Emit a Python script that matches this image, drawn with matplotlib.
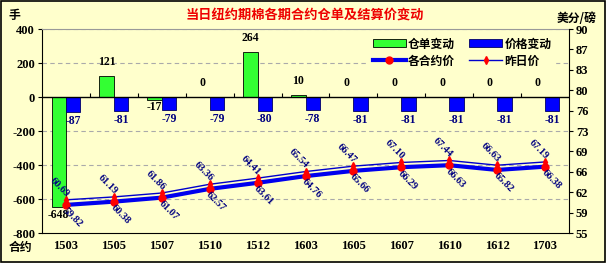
import matplotlib.pyplot as plt
from matplotlib.lines import Line2D
from matplotlib.patches import Patch, Rectangle

plt.rcParams['font.family'] = ['Liberation Serif', 'Noto Sans CJK SC']
plt.rcParams['font.weight'] = 'bold'

# chart data
contracts = ['1503', '1505', '1507', '1510', '1512', '1603', '1605', '1607', '1610', '1612', '1703']
warrant_change = [-648, 121, -17, 0, 264, 10, 0, 0, 0, 0, 0]
price_change = [-87, -81, -79, -79, -80, -78, -81, -81, -81, -81, -81]
price_today = [59.82, 60.38, 61.07, 62.57, 63.61, 64.76, 65.66, 66.29, 66.63, 65.82, 66.38]
price_prev = [60.69, 61.19, 61.86, 63.36, 64.41, 65.54, 66.47, 67.10, 67.44, 66.63, 67.19]

left_ticks = [-800, -600, -400, -200, 0, 200, 400]
right_ticks = [55, 58.5, 62, 65.5, 69, 72.5, 76, 79.5, 83, 86.5, 90]
right_tick_labels = ['55', '59', '62', '66', '69', '73', '76', '80', '83', '87', '90']

bg = '#FFFFCC'
navy = '#000080'
cjk = ['Noto Sans CJK SC', 'DejaVu Sans']

fig = plt.figure(figsize=(6.06, 2.63), dpi=100, facecolor=bg)
fig.patches.append(Rectangle((0.001, 0.002), 0.997, 0.995, transform=fig.transFigure,
                             fill=False, edgecolor='black', lw=1.2))

ax = fig.add_axes([42 / 606, 1 - 233 / 263, 527 / 606, 204 / 263])
ax.set_facecolor(bg)
x = list(range(len(contracts)))

# bars
xg = [i - 0.15 for i in x]
xb = [i + 0.15 for i in x]
ax.bar(xg, warrant_change, width=0.3, color='#33FF33', edgecolor='black', lw=0.6, zorder=3)
ax.bar(xb, price_change, width=0.3, color='#0000FF', edgecolor='#000066', lw=0.6, zorder=3)

for xi, v in zip(xg, warrant_change):
    if v >= 0:
        ax.annotate(str(v), (xi, v), xytext=(0, 6), textcoords='offset points',
                    ha='center', va='bottom', fontsize=8.5, color='black')
    else:
        ax.annotate(str(v), (xi, v), xytext=(0, -1), textcoords='offset points',
                    ha='center', va='top', fontsize=8.5, color='black')
for xi, v in zip(xb, price_change):
    ax.annotate(str(v), (xi, v), xytext=(0, -2), textcoords='offset points',
                ha='center', va='top', fontsize=8.5, color=navy)

ax.set_xlim(-0.5, len(contracts) - 0.5)
ax.set_ylim(-800, 400)
ax.set_yticks(left_ticks)
ax.set_yticklabels([str(t) for t in left_ticks], fontsize=9)
ax.set_xticks(x)
ax.set_xticklabels(contracts, fontsize=9)
ax.tick_params(axis='x', length=0, pad=5)
ax.tick_params(axis='y', length=3, width=0.8, pad=2)
for t in left_ticks:
    if t not in (0, -800):
        ax.axhline(t, color='#AAAAAA', lw=0.8, ls=(0, (4, 3)), zorder=1)
ax.axhline(0, color='black', lw=1, zorder=4)
ax.vlines([i + 0.5 for i in x[:-1]], 0, 25, color='black', lw=0.8, zorder=4)
ax.spines['top'].set_color('#999999')
ax.spines['right'].set_visible(False)

# price lines on the right axis
ax2 = ax.twinx()
ax2.plot(x, price_prev, color='#0000CC', lw=1, marker='d', ms=4,
         mfc='red', mec='red', zorder=3)
ax2.plot(x, price_today, color='#0000EE', lw=3, marker='o', ms=5,
         mfc='red', mec='red', zorder=4)
for xi, v in zip(x, price_prev):
    ax2.annotate(f'{v:.2f}', (xi, v), xytext=(-1, 1), textcoords='offset points',
                 ha='right', va='bottom', rotation=-45, rotation_mode='anchor',
                 fontsize=7.5, color=navy, zorder=5)
for xi, v in zip(x, price_today):
    ax2.annotate(f'{v:.2f}', (xi, v), xytext=(1, -1), textcoords='offset points',
                 ha='left', va='top', rotation=-45, rotation_mode='anchor',
                 fontsize=7.5, color=navy, zorder=5)
ax2.set_ylim(55, 90)
ax2.set_yticks(right_ticks)
ax2.set_yticklabels(right_tick_labels, fontsize=9)
ax2.tick_params(axis='y', length=3, width=0.8, pad=2)
for s in ('top', 'left', 'bottom'):
    ax2.spines[s].set_visible(False)

handles = [Patch(facecolor='#33FF33', edgecolor='black', lw=0.6),
           Line2D([], [], color='#0000EE', lw=3, marker='o', ms=5, mfc='red', mec='red'),
           Patch(facecolor='#0000FF', edgecolor='#000066', lw=0.6),
           Line2D([], [], color='#0000CC', lw=1, marker='d', ms=4, mfc='red', mec='red')]
labels = ['仓单变动', '各合约价', '价格变动', '昨日价']
leg = ax2.legend(handles, labels, ncol=2, loc='upper right', bbox_to_anchor=(0.985, 1.005),
                 frameon=True, facecolor=bg, edgecolor=bg, framealpha=1,
                 prop={'family': cjk, 'weight': 'bold', 'size': 8.5},
                 handlelength=2.8, handleheight=0.7, columnspacing=1.2,
                 labelspacing=0.35, borderpad=0.3, handletextpad=0.2)

fig.text(305 / 606, 1 - 15 / 263, '当日纽约期棉各期合约仓单及结算价变动', color='#EE0000',
         ha='center', va='center', fontsize=9.5, fontweight='bold', family=cjk)
fig.text(14 / 606, 1 - 16 / 263, '手', ha='center', va='center', fontsize=8.5,
         fontweight='bold', family=cjk)
fig.text(577 / 606, 1 - 18 / 263, '美分/磅', ha='center', va='center', fontsize=8.5,
         fontweight='bold', family=cjk)
fig.text(20 / 606, 1 - 247 / 263, '合约', ha='center', va='center', fontsize=8.5,
         fontweight='bold', family=cjk)

fig.savefig('out.png', dpi=100, facecolor=bg)
